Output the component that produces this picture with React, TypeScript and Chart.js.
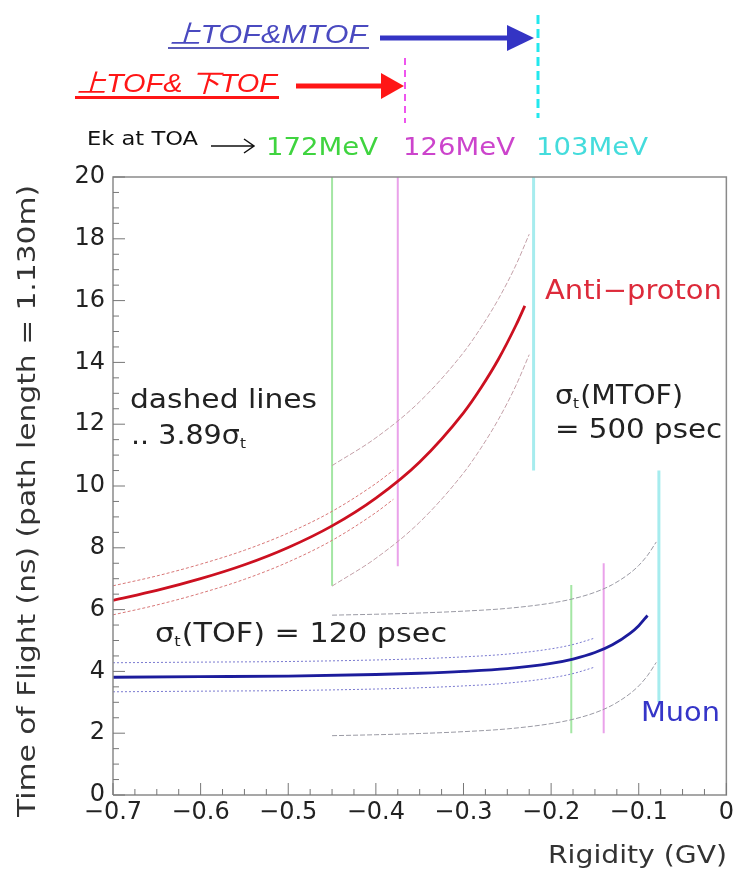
import React, { useEffect, useRef } from 'react';
import { Chart, registerables } from 'chart.js';
Chart.register(...registerables);

// ---- data ----
const apX = [-0.70, -0.65, -0.60, -0.55, -0.50, -0.45, -0.40, -0.35, -0.30, -0.28, -0.26, -0.24, -0.23];
const apTof = [6.30, 6.62, 7.00, 7.45, 8.01, 8.71, 9.61, 10.78, 12.37, 13.18, 14.11, 15.21, 15.83];
const apInnerX = [-0.70, -0.65, -0.60, -0.55, -0.50, -0.45, -0.40, -0.38];
const apInnerUp = [6.77, 7.09, 7.47, 7.92, 8.48, 9.18, 10.08, 10.51];
const apInnerLo = [5.83, 6.15, 6.53, 6.98, 7.54, 8.24, 9.14, 9.57];
const apOuterX = [-0.45, -0.40, -0.35, -0.30, -0.28, -0.26, -0.24, -0.225];
const apOuterUp = [10.66, 11.56, 12.73, 14.32, 15.13, 16.06, 17.16, 18.15];
const apOuterLo = [6.76, 7.66, 8.83, 10.42, 11.23, 12.16, 13.26, 14.25];

const muX = [-0.70, -0.60, -0.50, -0.40, -0.35, -0.30, -0.25, -0.20, -0.175, -0.15, -0.13, -0.11, -0.10, -0.09];
const muTof = [3.81, 3.83, 3.85, 3.90, 3.94, 4.00, 4.09, 4.26, 4.40, 4.61, 4.86, 5.23, 5.48, 5.81];
const muInnerX = [-0.70, -0.60, -0.50, -0.40, -0.35, -0.30, -0.25, -0.20, -0.175, -0.15];
const muInnerUp = [4.28, 4.30, 4.32, 4.37, 4.41, 4.47, 4.56, 4.73, 4.87, 5.08];
const muInnerLo = [3.34, 3.36, 3.38, 3.43, 3.47, 3.53, 3.62, 3.79, 3.93, 4.14];
const muOuterX = [-0.45, -0.40, -0.35, -0.30, -0.25, -0.20, -0.175, -0.15, -0.13, -0.11, -0.10, -0.09, -0.08];
const muOuterUp = [5.82, 5.85, 5.89, 5.95, 6.04, 6.21, 6.35, 6.56, 6.81, 7.18, 7.43, 7.76, 8.19];
const muOuterLo = [1.92, 1.95, 1.99, 2.05, 2.14, 2.31, 2.45, 2.66, 2.91, 3.28, 3.53, 3.86, 4.29];

// energy cut lines (rigidity, lower and upper ns)
const cutX = [-0.45, -0.375, -0.22, -0.177, -0.14, -0.077];
const cutLo = [6.77, 7.4, 10.5, 2.0, 2.0, 3.0];
const cutHi = [20, 20, 20, 6.8, 7.5, 10.5];

const energyLabels = ['172MeV', '126MeV', '103MeV'];
const xTickMin = -0.7;
const xTickMax = 0;
const yTickMin = 0;
const yTickMax = 20;

// ---- styles ----
const cutColors = ['#a4e6a4', '#eaa2ea', '#a6ecee', '#a4e6a4', '#eaa2ea', '#a6ecee'];
const energyColors = ['#3fd43f', '#cc44cc', '#44dcdc'];
const FONT = '"DejaVu Sans", sans-serif';

const pts = (xs: number[], ys: number[]) => xs.map((x, i) => ({ x, y: ys[i] }));

function fitText(ctx: CanvasRenderingContext2D, s: string, x: number, y: number, w: number, font: string, color: string) {
  ctx.save();
  ctx.font = font;
  ctx.fillStyle = color;
  ctx.textBaseline = 'middle';
  ctx.textAlign = 'left';
  const m = ctx.measureText(s).width;
  ctx.translate(x, y);
  ctx.scale(w / m, 1);
  ctx.fillText(s, 0, 0);
  ctx.restore();
}

// text with sigma_t: before + σ + subscript t + after, fitted to width w
function sigmaText(ctx: CanvasRenderingContext2D, before: string, after: string, x: number, y: number, size: number, w: number, color: string) {
  ctx.save();
  const big = `${size}px ${FONT}`;
  const small = `${Math.round(size * 0.55)}px ${FONT}`;
  ctx.font = big;
  const wb = ctx.measureText(before).width;
  const ws = ctx.measureText('σ').width;
  const wa = ctx.measureText(after).width;
  ctx.font = small;
  const wt = ctx.measureText('t').width + 1;
  const total = wb + ws + wt + wa;
  ctx.fillStyle = color;
  ctx.textBaseline = 'middle';
  ctx.translate(x, y);
  ctx.scale(w / total, 1);
  ctx.font = big;
  let cx = 0;
  ctx.fillText(before, cx, 0);
  cx += wb;
  ctx.fillText('σ', cx, 0);
  cx += ws;
  ctx.font = small;
  ctx.fillText('t', cx, size * 0.3);
  cx += wt;
  ctx.font = big;
  ctx.fillText(after, cx, 0);
  ctx.restore();
}

function arrow(ctx: CanvasRenderingContext2D, x0: number, x1: number, headX: number, y: number, thick: number, halfH: number, color: string) {
  ctx.save();
  ctx.fillStyle = color;
  ctx.fillRect(x0, y - thick / 2, headX - x0 + 2, thick);
  ctx.beginPath();
  ctx.moveTo(headX, y - halfH);
  ctx.lineTo(x1, y);
  ctx.lineTo(headX, y + halfH);
  ctx.closePath();
  ctx.fill();
  ctx.restore();
}

function dashV(ctx: CanvasRenderingContext2D, x: number, y0: number, y1: number, w: number, dash: number[], color: string) {
  ctx.save();
  ctx.strokeStyle = color;
  ctx.lineWidth = w;
  ctx.setLineDash(dash);
  ctx.beginPath();
  ctx.moveTo(x, y0);
  ctx.lineTo(x, y1);
  ctx.stroke();
  ctx.restore();
}

const decorPlugin = {
  id: 'decor',
  afterDraw(chart: any) {
    const ctx: CanvasRenderingContext2D = chart.ctx;
    const xs = chart.scales.x;
    const ys = chart.scales.y;
    const { left, right, top, bottom } = chart.chartArea;

    // frame
    ctx.save();
    ctx.strokeStyle = '#8a8a8a';
    ctx.lineWidth = 1.5;
    ctx.beginPath();
    ctx.moveTo(left, bottom);
    ctx.lineTo(left, top);
    ctx.lineTo(right, top);
    ctx.lineTo(right, bottom);
    ctx.lineTo(left, bottom);
    ctx.stroke();
    // ticks (inside)
    ctx.lineWidth = 1;
    ctx.strokeStyle = '#777';
    ctx.beginPath();
    for (let i = 0; i <= 40; i++) {
      const v = yTickMin + i * 0.5;
      const py = ys.getPixelForValue(v);
      const len = i % 4 === 0 ? 12 : 6;
      ctx.moveTo(left, py);
      ctx.lineTo(left + len, py);
    }
    for (let i = 0; i <= 28; i++) {
      const v = xTickMin + i * 0.025;
      const px = xs.getPixelForValue(v);
      const len = i % 4 === 0 ? 12 : 6;
      ctx.moveTo(px, bottom);
      ctx.lineTo(px, bottom - len);
    }
    ctx.stroke();
    ctx.restore();

    // in-plot labels
    const f26 = `26px ${FONT}`;
    fitText(ctx, 'Anti\u2212proton', 545, 292, 177, f26, '#dd2a3a');
    sigmaText(ctx, '', '(MTOF)', 555, 397, 26, 128, '#222');
    fitText(ctx, '= 500 psec', 555, 431, 167, f26, '#222');
    fitText(ctx, 'dashed lines', 130, 401, 187, f26, '#222');
    sigmaText(ctx, '.. 3.89', '', 131, 437, 26, 116, '#222');
    sigmaText(ctx, '', '(TOF) = 120 psec', 155, 635, 26, 292, '#222');
    fitText(ctx, 'Muon', 641, 714, 79, f26, '#3535c8');

    // axis titles
    ctx.save();
    ctx.translate(28, 501);
    ctx.rotate(-Math.PI / 2);
    fitText(ctx, 'Time of Flight (ns) (path length = 1.130m)', -316, 0, 632, `25px ${FONT}`, '#333');
    ctx.restore();
    fitText(ctx, 'Rigidity (GV)', 548, 857, 179, `24px ${FONT}`, '#333');

    // top annotations
    const blue = '#3434c4';
    const red = '#ff1616';
    fitText(ctx, '上TOF&MTOF', 170, 36, 197, `italic 25px "Liberation Sans", "Noto Sans CJK JP", sans-serif`, '#4a4ac0');
    ctx.fillStyle = '#5a5ab8';
    ctx.fillRect(168, 47, 201, 2);
    arrow(ctx, 380, 534, 507, 38, 5, 13, blue);
    dashV(ctx, 538, 15, 118, 3, [9, 5], '#22e8ee');

    fitText(ctx, '上TOF& 下TOF', 77, 85, 200, `italic 25px "Liberation Sans", "Noto Sans CJK JP", sans-serif`, red);
    ctx.fillStyle = red;
    ctx.fillRect(75, 96, 204, 3);
    arrow(ctx, 296, 404, 381, 86, 5, 13, red);
    dashV(ctx, 405, 58, 123, 2, [7, 5], '#ee55ee');

    fitText(ctx, 'Ek at TOA', 87, 140, 111, `20px ${FONT}`, '#111');
    ctx.save();
    ctx.strokeStyle = '#111';
    ctx.lineWidth = 1.5;
    ctx.beginPath();
    ctx.moveTo(211, 146);
    ctx.lineTo(254, 146);
    ctx.moveTo(244, 139);
    ctx.lineTo(254, 146);
    ctx.lineTo(244, 153);
    ctx.stroke();
    ctx.restore();
    const eX = [266, 403, 536];
    energyLabels.forEach((s, i) => fitText(ctx, s, eX[i], 148, 112, `25px ${FONT}`, energyColors[i]));
  },
};

export default function App() {
  const ref = useRef<HTMLCanvasElement>(null);
  useEffect(() => {
    const line = (data: any[], color: string, width: number, dash: number[] = []) => ({
      type: 'line' as const,
      data,
      borderColor: color,
      borderWidth: width,
      borderDash: dash,
      pointRadius: 0,
      cubicInterpolationMode: 'monotone' as const,
      fill: false,
    });
    const datasets: any[] = [
      line(pts(apX, apTof), '#cc1020', 2.8),
      line(pts(muX, muTof), '#1c1c9c', 2.8),
      line(pts(apInnerX, apInnerUp), '#d87878', 1, [3, 2]),
      line(pts(apInnerX, apInnerLo), '#d87878', 1, [3, 2]),
      line(pts(apOuterX, apOuterUp), '#c4a0a8', 1, [5, 2]),
      line(pts(apOuterX, apOuterLo), '#c4a0a8', 1, [5, 2]),
      line(pts(muInnerX, muInnerUp), '#7a7ad0', 1, [2, 2]),
      line(pts(muInnerX, muInnerLo), '#7a7ad0', 1, [2, 2]),
      line(pts(muOuterX, muOuterUp), '#9a9aa4', 1, [5, 2]),
      line(pts(muOuterX, muOuterLo), '#9a9aa4', 1, [5, 2]),
    ];
    cutX.forEach((x, i) => {
      datasets.push({
        type: 'line',
        data: [{ x, y: cutLo[i] }, { x, y: cutHi[i] }],
        borderColor: cutColors[i],
        borderWidth: i === 2 || i === 5 ? 3 : 2,
        pointRadius: 0,
        fill: false,
      });
    });
    const chart = new Chart(ref.current!, {
      type: 'line',
      data: { datasets },
      plugins: [decorPlugin],
      options: {
        responsive: false,
        animation: false,
        layout: { padding: { top: 177, right: 10, left: 0, bottom: 0 } },
        plugins: { legend: { display: false }, tooltip: { enabled: false }, title: { display: false } },
        scales: {
          x: {
            type: 'linear',
            min: xTickMin,
            max: xTickMax,
            afterFit: (s: any) => { s.height = 85; },
            grid: { display: false, drawTicks: false },
            border: { display: false },
            ticks: {
              stepSize: 0.1,
              padding: 3,
              color: '#222',
              font: { family: 'DejaVu Sans', size: 24 },
              maxRotation: 0,
              callback: (v: any) => {
                const n = Math.round(Number(v) * 10) / 10;
                return n === 0 ? '0' : '\u2212' + Math.abs(n).toFixed(1);
              },
            },
          },
          y: {
            type: 'linear',
            min: yTickMin,
            max: yTickMax,
            afterFit: (s: any) => { s.width = 113; },
            grid: { display: false, drawTicks: false },
            border: { display: false },
            ticks: {
              stepSize: 2,
              padding: 8,
              color: '#222',
              font: { family: 'DejaVu Sans', size: 24 },
            },
          },
        },
      },
    } as any);
    return () => chart.destroy();
  }, []);
  return (
    <div style={{ position: 'fixed', left: 0, top: 0, width: 737, height: 880, background: '#fff' }}>
      <canvas ref={ref} width={737} height={880} style={{ display: 'block', width: 737, height: 880 }} />
    </div>
  );
}
